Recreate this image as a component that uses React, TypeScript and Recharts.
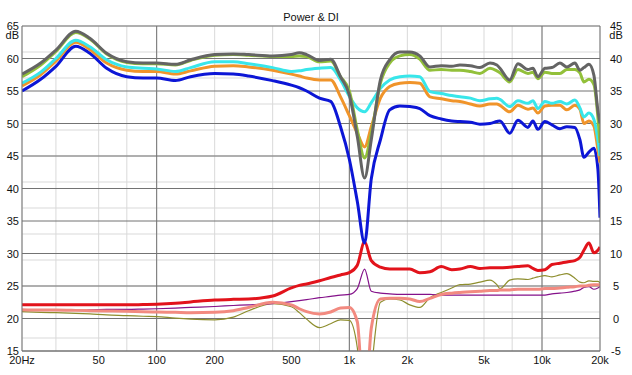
import { LineChart, Line, XAxis, YAxis, CartesianGrid } from "recharts";

// Power & DI: upper curves on the left dB axis, DI curves on the right one.
const FREQ = [
  20, 25, 30, 38, 45, 55, 70, 85, 100, 125, 150, 200, 250, 300, 400, 500, 550, 600, 700,
  800, 900, 1000, 1100, 1200, 1300, 1450, 1620, 1830, 2060, 2320, 2620, 3000, 3400, 3750,
  4250, 4760, 5370, 5830, 6050, 6800, 7500, 8450, 8970, 9520, 10350, 11260, 12390, 13460,
  14810, 15730, 16500, 17520, 18600, 19500, 20000,
];

const GRAY = [
  57.6, 59.3, 61.3, 64.2, 63.1, 60.8, 59.5, 59.3, 59.3, 59.1, 59.8, 60.6, 60.7, 60.6, 60.4,
  60.6, 60.9, 60.6, 59.7, 59.9, 57.2, 54.4, 48, 41.6, 47.5, 56.7, 59.8, 61.0, 61.0, 60.4,
  58.7, 58.9, 58.8, 59.0, 58.9, 58.6, 59.3, 59.0, 58.5, 56.7, 59.2, 58.3, 58.5, 57.2, 58.5,
  58.6, 59.3, 58.7, 59.3, 58.2, 58.6, 59.1, 57.4, 52, 50,
];
const GREEN = [
  57.2, 59.0, 61.1, 64.0, 63.0, 60.7, 59.4, 59.2, 59.2, 59.0, 59.7, 60.5, 60.6, 60.5, 60.3,
  60.3, 60.4, 60.3, 59.5, 59.6, 57.2, 55.0, 49.0, 44.7, 48.5, 56.2, 59.3, 60.4, 60.6, 59.9,
  58.2, 58.3, 58.2, 58.2, 58.0, 57.7, 58.5, 58.1, 57.8, 56.4, 58.3, 57.7, 57.9, 56.9, 57.9,
  57.7, 57.7, 58.3, 58.3, 57.8, 56.4, 56.8, 56.0, 51, 47,
];
const CYAN = [
  56.2, 57.9, 60.0, 62.8, 61.8, 59.8, 58.7, 58.5, 58.4, 58.0, 58.6, 59.5, 59.5, 59.2, 58.6,
  58.0, 58.1, 58.3, 58.5, 58.6, 56.7, 54.2, 52.4, 51.8, 53.2, 55.4, 56.7, 57.2, 57.3, 57.2,
  54.9, 54.6, 54.3, 54.1, 53.9, 53.5, 53.8, 53.9, 53.7, 52.6, 53.5, 53.1, 53.5, 52.3, 53.4,
  53.1, 53.4, 53.0, 53.6, 52.4, 51.0, 51.6, 50.6, 47.5, 45,
];
const ORANGE = [
  55.8, 57.5, 59.6, 62.5, 61.4, 59.3, 58.2, 58.0, 58.0, 57.6, 58.1, 58.8, 58.9, 58.7, 58.2,
  57.6, 57.3, 57.0, 56.7, 56.7, 54.1, 51.2, 48.5, 46.4, 49.5, 53.9, 55.7, 56.2, 56.3, 56.2,
  54.1, 53.8, 53.5, 53.4, 53.0, 52.7, 53.0, 53.0, 52.8, 51.8, 52.8, 52.2, 52.4, 51.6, 52.7,
  52.8, 52.8, 52.1, 52.8, 52.2, 50.0, 50.4, 49.6, 46, 44,
];
const BLUE = [
  55.0, 56.8, 58.8, 61.9, 60.8, 58.5, 57.2, 57.0, 57.0, 56.6, 57.2, 57.7, 57.6, 57.3, 56.6,
  55.9, 55.5, 55.0, 53.9, 53.4, 49.5, 44.5, 38.0, 31.6, 41.5, 47.5, 52.1, 52.7, 52.6, 52.3,
  51.2, 50.7, 50.4, 50.3, 50.2, 49.9, 50.0, 50.3, 50.4, 48.5, 50.5, 49.4, 50.4, 49.1, 50.3,
  49.8, 49.2, 49.5, 49.4, 47.5, 44.8, 45.6, 46.2, 43, 35.5,
];

const DI_RED = [
  2.1, 2.1, 2.1, 2.1, 2.1, 2.1, 2.1, 2.15, 2.2, 2.35, 2.55, 2.85, 2.95, 3.0, 3.45, 4.7, 5.1,
  5.3, 5.8, 6.3, 6.7, 7.05, 8.2, 11.8, 8.9, 7.9, 7.6, 7.6, 7.6, 7.05, 7.2, 8.0, 7.5, 7.6,
  8.0, 7.7, 7.8, 7.8, 7.8, 7.9, 8.0, 8.1, 7.7, 7.4, 7.5, 8.3, 8.5, 8.7, 8.9, 9.4, 10.5,
  11.6, 10.1, 10.5, 11.0,
];
const DI_PURPLE = [
  1.3, 1.3, 1.3, 1.35, 1.35, 1.4, 1.4, 1.45, 1.5, 1.6, 1.7, 1.85, 2.0, 2.1, 2.3, 2.6, 2.75,
  2.9, 3.2, 3.4, 3.6, 3.7, 4.6, 7.6, 4.2, 3.9, 3.8, 3.7, 3.7, 3.7, 3.7, 3.6, 3.6, 3.6, 3.6,
  3.6, 3.6, 3.6, 3.6, 3.6, 3.6, 3.6, 3.6, 3.6, 3.6, 3.8, 3.9, 4.0, 4.2, 4.4, 4.8, 4.9, 4.5,
  4.7, 4.9,
];
const DI_PINK = [
  1.35, 1.3, 1.3, 1.25, 1.2, 1.15, 1.1, 1.05, 1.0, 0.95, 0.9, 0.95, 1.2, 1.7, 2.5, 2.1, 1.5,
  1.05, 0.7, 1.0, 1.6, 1.7, -0.5, -15, -1.5, 3.0, 3.1, 3.1, 3.0, 2.6, 3.1, 3.7, 3.9, 4.0,
  4.1, 4.2, 4.3, 4.3, 4.4, 4.4, 4.5, 4.5, 4.5, 4.5, 4.6, 4.6, 4.7, 4.8, 4.9, 5.0, 5.0, 5.1,
  5.2, 5.2, 5.2,
];
const DI_OLIVE = [
  1.05, 0.95, 0.9, 0.8, 0.7, 0.55, 0.45, 0.35, 0.3, 0.05, -0.1, -0.2, 0.2, 1.2, 2.3, 1.8,
  0.9, -0.1, -1.4, -0.8, -0.2, -0.3, -4.5, -18, -8, 2.5, 3.0, 2.85, 2.1, 1.7, 3.2, 4.0, 4.7,
  5.2, 5.3, 5.6, 5.9, 5.2, 4.6, 5.9, 6.1, 6.0, 6.2, 6.4, 6.6, 6.4, 6.7, 6.9, 6.2, 5.6, 5.5,
  5.8, 5.7, 5.7, 5.5,
];

const X_TICKS = [20, 50, 100, 200, 500, 1000, 2000, 5000, 10000, 20000];
const X_GRID = [
  20, 30, 40, 50, 60, 70, 80, 90, 100, 200, 300, 400, 500, 600, 700, 800, 900, 1000, 2000,
  3000, 4000, 5000, 6000, 7000, 8000, 9000, 10000, 20000,
];
const X_MAJOR = [100, 1000, 10000];
const DB_TICKS = [15, 20, 25, 30, 35, 40, 45, 50, 55, 60, 65];
const DI_TICKS = [-5, 0, 5, 10, 15, 20, 25, 30, 35, 40, 45];
const DB_MINOR = Array.from({ length: 51 }, (_, i) => 15 + i);

const rows = FREQ.map((f, i) => ({
  f,
  gray: GRAY[i],
  green: GREEN[i],
  cyan: CYAN[i],
  orange: ORANGE[i],
  blue: BLUE[i],
  red: DI_RED[i],
  purple: DI_PURPLE[i],
  pink: DI_PINK[i],
  olive: DI_OLIVE[i],
}));

const FONT = "'Liberation Sans', Arial, sans-serif";
const INK = "#111";
const FRAME = "#737373";
const MINOR = "#d9d9d9";

const fmtHz = (v: number) => (v === 20 ? "20Hz" : v >= 1000 ? `${v / 1000}k` : String(v));

function DbTick({ x, y, payload }: any) {
  return (
    <g>
      <text x={x} y={y + 4} textAnchor="end" fontSize={11} fill={INK} fontFamily={FONT}>
        {payload.value}
      </text>
      {payload.value === 65 && (
        <text x={x} y={y + 13} textAnchor="end" fontSize={11} fill={INK} fontFamily={FONT}>
          dB
        </text>
      )}
    </g>
  );
}

function DiTick({ x, y, payload }: any) {
  return (
    <g>
      <text x={x} y={y + 4} textAnchor="middle" fontSize={11} fill={INK} fontFamily={FONT}>
        {payload.value}
      </text>
      {payload.value === 45 && (
        <text x={x} y={y + 13} textAnchor="middle" fontSize={11} fill={INK} fontFamily={FONT}>
          dB
        </text>
      )}
    </g>
  );
}

export default function App() {
  return (
    <div
      style={{
        position: "absolute",
        left: 0,
        top: 0,
        width: 632,
        height: 375,
        background: "#fff",
        fontFamily: FONT,
      }}
    >
      <div
        style={{
          position: "absolute",
          left: 0,
          top: 11,
          width: 622,
          textAlign: "center",
          fontSize: 11,
          lineHeight: "12px",
          color: INK,
        }}
      >
        Power &amp; DI
      </div>
      <LineChart width={632} height={375} data={rows} margin={{ top: 26, right: 0, bottom: 0, left: 0 }}>
        <CartesianGrid stroke={MINOR} horizontalValues={DB_MINOR} verticalValues={X_GRID} />
        <CartesianGrid stroke={FRAME} horizontalValues={DB_TICKS} verticalValues={X_MAJOR} />
        <XAxis
          dataKey="f"
          type="number"
          scale="log"
          domain={[20, 20000]}
          ticks={X_TICKS}
          tickFormatter={fmtHz}
          height={24}
          tickSize={0}
          tickMargin={5}
          axisLine={{ stroke: FRAME }}
          tick={{ fontSize: 11, fill: INK, fontFamily: FONT }}
          allowDataOverflow
        />
        <YAxis
          domain={[15, 65]}
          ticks={DB_TICKS}
          width={22}
          tickSize={0}
          tickMargin={3}
          axisLine={{ stroke: FRAME }}
          tick={<DbTick />}
          allowDataOverflow
        />
        <YAxis
          yAxisId="right"
          orientation="right"
          domain={[-5, 45]}
          ticks={DI_TICKS}
          width={32}
          tickSize={0}
          tickMargin={16}
          axisLine={{ stroke: FRAME }}
          tick={<DiTick />}
          allowDataOverflow
        />
        <Line yAxisId="right" type="monotone" dataKey="olive" stroke="#8e8e2e" strokeWidth={1.2} dot={false} isAnimationActive={false} />
        <Line yAxisId="right" type="monotone" dataKey="purple" stroke="#84118a" strokeWidth={1.2} dot={false} isAnimationActive={false} />
        <Line yAxisId="right" type="monotone" dataKey="pink" stroke="#f28a80" strokeWidth={3} dot={false} isAnimationActive={false} />
        <Line yAxisId="right" type="monotone" dataKey="red" stroke="#e2131b" strokeWidth={3} dot={false} isAnimationActive={false} />
        <Line type="monotone" dataKey="blue" stroke="#0c16d6" strokeWidth={3} dot={false} isAnimationActive={false} />
        <Line type="monotone" dataKey="orange" stroke="#f0942a" strokeWidth={3} dot={false} isAnimationActive={false} />
        <Line type="monotone" dataKey="cyan" stroke="#38e6ea" strokeWidth={3} dot={false} isAnimationActive={false} />
        <Line type="monotone" dataKey="green" stroke="#92c03a" strokeWidth={3} dot={false} isAnimationActive={false} />
        <Line type="monotone" dataKey="gray" stroke="#646464" strokeWidth={3} dot={false} isAnimationActive={false} />
      </LineChart>
    </div>
  );
}
